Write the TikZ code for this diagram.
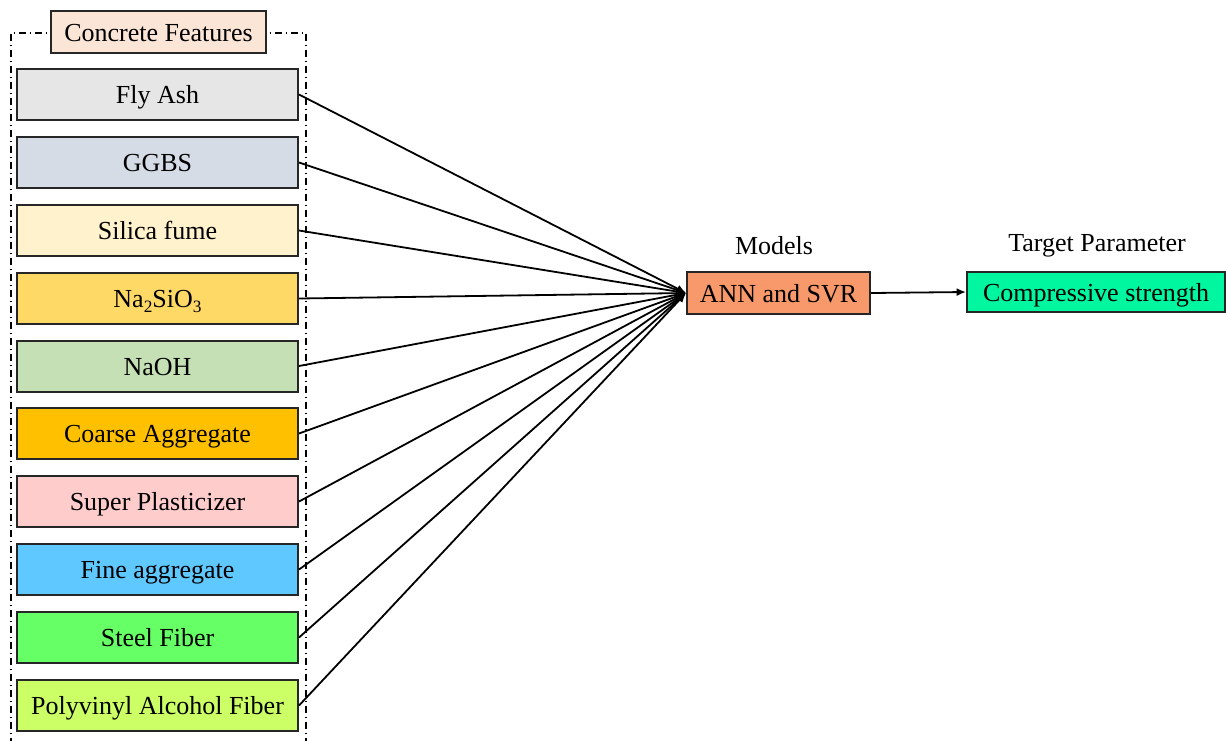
\documentclass[tikz,border=0pt]{standalone}
\usepackage{fontspec}
\setmainfont{Liberation Serif}
\usetikzlibrary{arrows.meta}
\definecolor{cFly}{HTML}{E7E6E6}
\definecolor{cGGBS}{HTML}{D6DCE5}
\definecolor{cSil}{HTML}{FFF2CC}
\definecolor{cNa}{HTML}{FFD966}
\definecolor{cNaOH}{HTML}{C5E0B4}
\definecolor{cCoarse}{HTML}{FFC000}
\definecolor{cSuper}{HTML}{FFCCCC}
\definecolor{cFine}{HTML}{5FC8FF}
\definecolor{cSteel}{HTML}{66FF66}
\definecolor{cPVA}{HTML}{CCFF66}
\definecolor{cCF}{HTML}{FBE5D6}
\definecolor{cANN}{HTML}{F7996A}
\definecolor{cCS}{HTML}{00F79F}
\newcommand{\lowsub}[1]{\raisebox{-0.45ex}{\fontsize{13}{13}\selectfont #1}}
\tikzset{
  feat/.style={draw=black!85, line width=1.5pt, minimum width=210.75pt, minimum height=38.25pt, inner sep=0pt, font=\fontsize{19.5}{22}\selectfont, text height=16pt, text depth=2.5pt, anchor=center},
  lbl/.style={font=\fontsize{19.5}{22}\selectfont, inner sep=0pt},
  conn/.style={line width=1.35pt, -{Latex[length=7pt,width=6pt]}},
  frame/.style={line width=1.1pt, dash pattern=on 5pt off 3pt on 1pt off 3pt}
}
\begin{document}
\begin{tikzpicture}[x=0.75pt,y=-0.75pt]
\useasboundingbox (0,0) rectangle (1226,740);
\draw[frame] (11,745) -- (11,33) -- (306,33) -- (306,745);
\node[feat, fill=cCF, minimum width=161.25pt, minimum height=31.5pt] (cf) at (158.5,32) {Concrete Features};
\node[feat, fill=cFly] (f1) at (157.5,94.5) {Fly Ash};
\node[feat, fill=cGGBS] (f2) at (157.5,162.5) {GGBS};
\node[feat, fill=cSil] (f3) at (157.5,230.5) {Silica fume};
\node[feat, fill=cNa] (f4) at (157.5,298.5) {Na\lowsub{2}SiO\lowsub{3}};
\node[feat, fill=cNaOH] (f5) at (157.5,366) {NaOH};
\node[feat, fill=cCoarse] (f6) at (157.5,433.5) {Coarse Aggregate};
\node[feat, fill=cSuper] (f7) at (157.5,501.5) {Super Plasticizer};
\node[feat, fill=cFine] (f8) at (157.5,569.5) {Fine aggregate};
\node[feat, fill=cSteel] (f9) at (157.5,637.5) {Steel Fiber};
\node[feat, fill=cPVA] (f10) at (157.5,705.5) {Polyvinyl Alcohol Fiber};
\node[feat, fill=cANN, minimum width=137.25pt, minimum height=31.5pt] (ann) at (778.5,293) {ANN and SVR};
\node[feat, fill=cCS, minimum width=193.5pt, minimum height=30pt] (cs) at (1096,292) {Compressive strength};
\node[lbl] (models) at (774,246) {Models};
\node[lbl] (target) at (1097,246) {Target Parameter};
\foreach \i in {1,...,10} {\draw[conn] (f\i.east) -- (ann.west);}
\draw[conn] (ann.east) -- (cs.west);
\end{tikzpicture}
\end{document}
